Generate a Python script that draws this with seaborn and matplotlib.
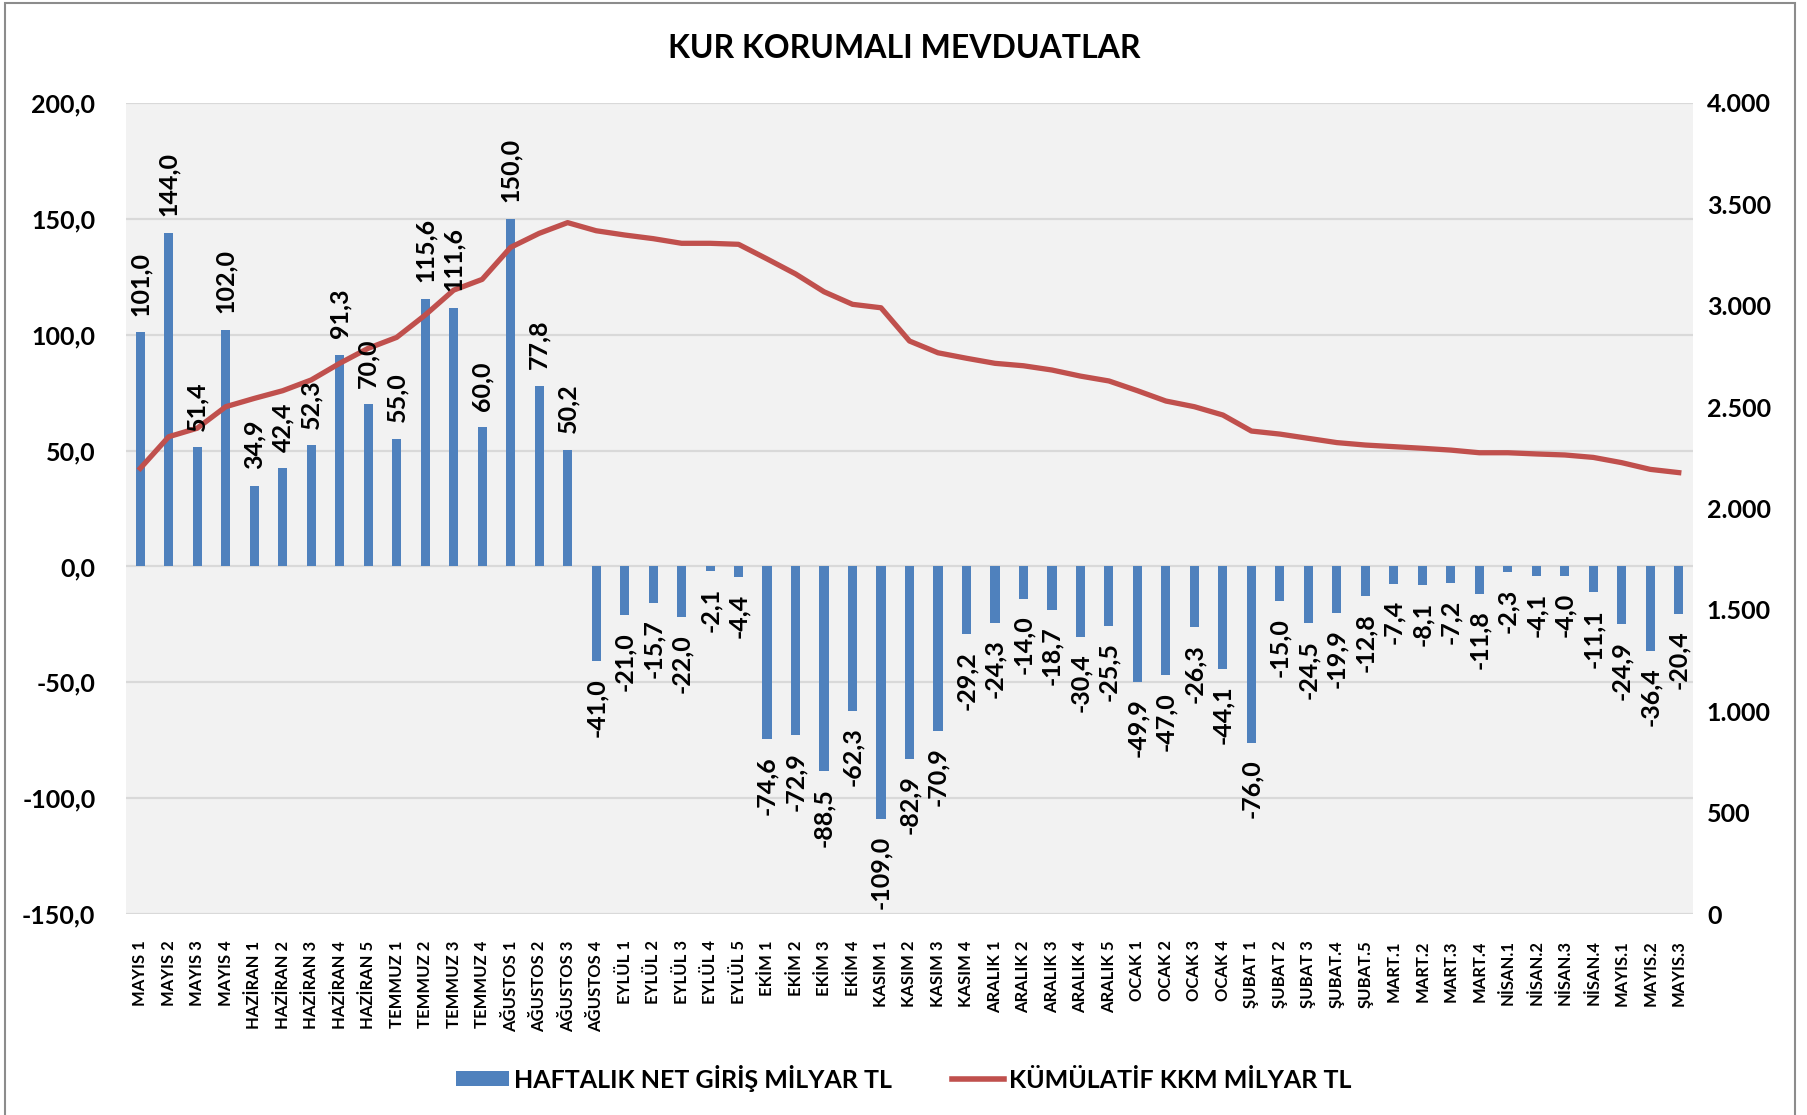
import numpy as np
import matplotlib
matplotlib.use("Agg")
import matplotlib.pyplot as plt
import seaborn as sns
from matplotlib.patches import Patch, Rectangle
from matplotlib.lines import Line2D
from matplotlib.ticker import FixedLocator, FuncFormatter

categories = [
    "MAYIS 1", "MAYIS 2", "MAYIS 3", "MAYIS 4",
    "HAZİRAN 1", "HAZİRAN 2", "HAZİRAN 3", "HAZİRAN 4", "HAZİRAN 5",
    "TEMMUZ 1", "TEMMUZ 2", "TEMMUZ 3", "TEMMUZ 4",
    "AĞUSTOS 1", "AĞUSTOS 2", "AĞUSTOS 3", "AĞUSTOS 4",
    "EYLÜL 1", "EYLÜL 2", "EYLÜL 3", "EYLÜL 4", "EYLÜL 5",
    "EKİM 1", "EKİM 2", "EKİM 3", "EKİM 4",
    "KASIM 1", "KASIM 2", "KASIM 3", "KASIM 4",
    "ARALIK 1", "ARALIK 2", "ARALIK 3", "ARALIK 4", "ARALIK 5",
    "OCAK 1", "OCAK 2", "OCAK 3", "OCAK 4",
    "ŞUBAT 1", "ŞUBAT 2", "ŞUBAT 3", "ŞUBAT.4", "ŞUBAT.5",
    "MART.1", "MART.2", "MART.3", "MART.4",
    "NİSAN.1", "NİSAN.2", "NİSAN.3", "NİSAN.4",
    "MAYIS.1", "MAYIS.2", "MAYIS.3",
]

weekly_net = [
    101.0, 144.0, 51.4, 102.0,
    34.9, 42.4, 52.3, 91.3, 70.0,
    55.0, 115.6, 111.6, 60.0,
    150.0, 77.8, 50.2, -41.0,
    -21.0, -15.7, -22.0, -2.1, -4.4,
    -74.6, -72.9, -88.5, -62.3,
    -109.0, -82.9, -70.9, -29.2,
    -24.3, -14.0, -18.7, -30.4, -25.5,
    -49.9, -47.0, -26.3, -44.1,
    -76.0, -15.0, -24.5, -19.9, -12.8,
    -7.4, -8.1, -7.2, -11.8,
    -2.3, -4.1, -4.0, -11.1,
    -24.9, -36.4, -20.4,
]

cumulative = [
    2198, 2354, 2396, 2502,
    2543, 2581, 2634, 2716, 2790,
    2844, 2954, 3077, 3130,
    3288, 3357, 3410, 3370,
    3349, 3331, 3308, 3308, 3303,
    3231, 3157, 3069, 3007,
    2990, 2826, 2768, 2741,
    2716, 2704, 2683, 2653, 2629,
    2581, 2530, 2502, 2461,
    2382, 2367, 2346, 2325, 2313,
    2305, 2297, 2288, 2275,
    2275, 2269, 2264, 2252,
    2226, 2193, 2177,
]

left_ticks = [-150, -100, -50, 0, 50, 100, 150, 200]
right_ticks = [0, 500, 1000, 1500, 2000, 2500, 3000, 3500, 4000]

title = "KUR KORUMALI MEVDUATLAR"
bar_label = "HAFTALIK NET GİRİŞ MİLYAR TL"
line_label = "KÜMÜLATİF KKM MİLYAR TL"

BLUE = "#4F81BD"
RED = "#C0504D"
FONT = ["Lato", "DejaVu Sans"]

plt.rcParams["font.family"] = FONT
plt.rcParams["font.weight"] = "bold"

fig = plt.figure(figsize=(18.08, 11.15), dpi=100)
fig.patch.set_facecolor("white")
ax = fig.add_axes([126 / 1808, 1 - 914 / 1115, (1693 - 126) / 1808, (914 - 103) / 1115])
ax.set_facecolor("#F2F2F2")

sns.barplot(x=categories, y=weekly_net, color=BLUE, saturation=1, width=0.32,
            ax=ax, zorder=2)
ax.set_xlim(-0.5, len(categories) - 0.5)
ax.set_ylim(-150, 200)
ax.yaxis.set_major_locator(FixedLocator(left_ticks))
ax.yaxis.set_major_formatter(FuncFormatter(lambda v, p: f"{v:.1f}".replace(".", ",")))
ax.grid(axis="y", color="#D9D9D9", linewidth=1.6, zorder=0)
ax.set_axisbelow(True)
ax.tick_params(axis="y", length=0, pad=22, labelsize=18)
ax.tick_params(axis="x", length=0, pad=19, labelsize=12, rotation=90)
for lbl in ax.get_xticklabels() + ax.get_yticklabels():
    lbl.set_fontweight("bold")
for s in ax.spines.values():
    s.set_visible(False)
ax.set_xlabel("")
ax.set_ylabel("")

ax2 = ax.twinx()
sns.lineplot(x=np.arange(len(cumulative)), y=cumulative, color=RED, linewidth=3.8,
             ax=ax2, zorder=3)
ax2.set_ylim(0, 4000)
ax2.yaxis.set_major_locator(FixedLocator(right_ticks))
ax2.yaxis.set_major_formatter(FuncFormatter(lambda v, p: f"{int(v):,}".replace(",", ".")))
ax2.tick_params(axis="y", length=0, pad=10, labelsize=18)
for lbl in ax2.get_yticklabels():
    lbl.set_fontweight("bold")
for s in ax2.spines.values():
    s.set_visible(False)
ax2.set_ylabel("")

for i, v in enumerate(weekly_net):
    txt = f"{v:.1f}".replace(".", ",")
    if v >= 0:
        ax2.annotate(txt, xy=(i, v), xycoords=ax.transData, xytext=(0, 12),
                     textcoords="offset points", rotation=90, ha="center",
                     va="bottom", fontsize=18, fontweight="bold", zorder=5)
    else:
        ax2.annotate(txt, xy=(i, v), xycoords=ax.transData, xytext=(0, -12),
                     textcoords="offset points", rotation=90, ha="center",
                     va="top", fontsize=18, fontweight="bold", zorder=5)

fig.text(0.5, 1 - 48 / 1115, title, ha="center", va="center", fontsize=23,
         fontweight="bold")

handles = [Patch(facecolor=BLUE, edgecolor="none"),
           Line2D([0], [0], color=RED, linewidth=4)]
fig.legend(handles, [bar_label, line_label], loc="center",
           bbox_to_anchor=(0.5, 1 - 1078 / 1115), ncol=2, frameon=False,
           prop={"family": FONT, "weight": "bold", "size": 18},
           handlelength=2.1, handleheight=0.56, handletextpad=0.2,
           columnspacing=2.4)

fig.add_artist(Rectangle((5 / 1808, -0.02), (1795 - 5) / 1808, 1 - 3 / 1115 + 0.02,
                         transform=fig.transFigure, fill=False,
                         edgecolor="#8C8C8C", linewidth=1.5))

fig.savefig("out.png", dpi=100)
